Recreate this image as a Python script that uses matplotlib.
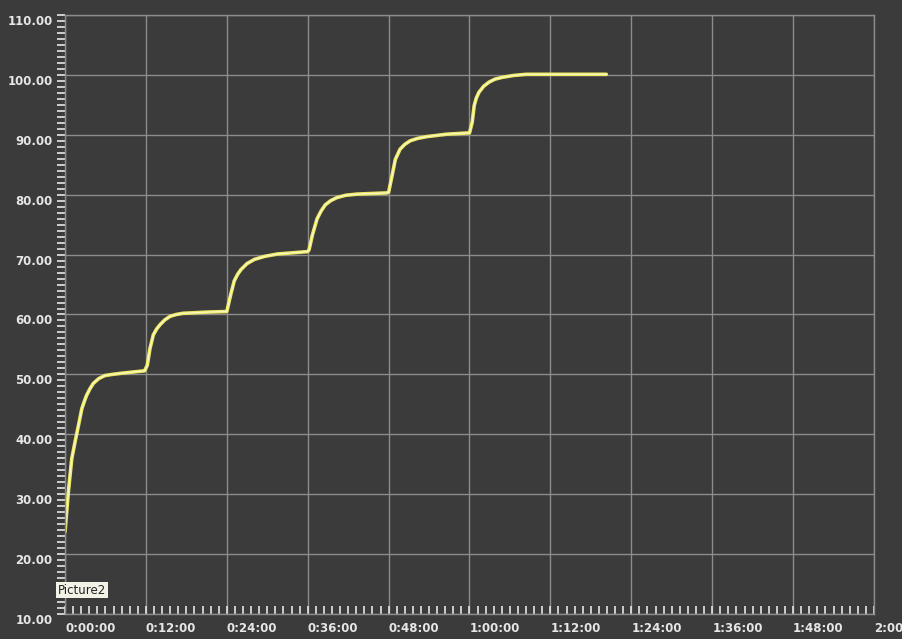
import matplotlib.pyplot as plt
from matplotlib.ticker import MultipleLocator, FuncFormatter

# elapsed time (minutes) and measured level
time_min = [0.0, 0.5, 1.0, 1.5, 2.0, 2.5, 2.9, 3.2, 3.7, 4.2, 5.0, 5.9, 7.0, 8.4, 11.8,
            12.2, 12.6, 13.1, 13.6, 14.1, 14.8, 15.6, 16.5, 17.5, 21.0, 24.0,
            24.1, 24.6, 25.1, 25.6, 26.1, 27.0, 28.1, 29.6, 31.5, 36.0,
            36.2, 36.7, 37.4, 38.0, 38.6, 39.4, 40.3, 41.6, 43.3, 47.7,
            48.0, 48.5, 49.0, 49.7, 50.4, 51.2, 52.3, 53.7, 56.6, 59.6,
            60.0, 60.4, 60.7, 61.0, 61.4, 62.1, 62.9, 63.8, 64.9, 66.5, 68.4, 80.3]
level = [23.7, 30.4, 35.9, 38.8, 41.5, 44.3, 45.6, 46.5, 47.6, 48.5, 49.3, 49.8, 50.0, 50.2, 50.6,
         51.5, 54.3, 56.6, 57.6, 58.3, 59.1, 59.7, 60.0, 60.2, 60.4, 60.5,
         61.0, 63.4, 65.6, 66.7, 67.5, 68.5, 69.2, 69.7, 70.1, 70.5,
         70.8, 73.3, 76.0, 77.3, 78.3, 79.0, 79.5, 79.9, 80.1, 80.3,
         80.4, 83.1, 85.9, 87.6, 88.4, 89.0, 89.4, 89.7, 90.1, 90.3,
         90.3, 92.1, 94.9, 96.1, 97.1, 98.1, 98.8, 99.3, 99.6, 99.9, 100.1, 100.1]

bg = '#3b3b3b'
fg = '#e6e6e6'

fig = plt.figure(figsize=(9.02, 6.39), dpi=100, facecolor=bg)
ax = fig.add_axes([65 / 902, 1 - 614 / 639, (874 - 65) / 902, (614 - 15) / 639])
ax.set_facecolor(bg)

ax.plot(time_min, level, color='#ece860', lw=2.6, solid_joinstyle='round', solid_capstyle='round')
ax.plot(time_min, level, color='#fbf8c8', lw=0.9, solid_joinstyle='round')

ax.set_xlim(0, 120)
ax.set_ylim(10, 110)

ax.xaxis.set_major_locator(MultipleLocator(12))
ax.xaxis.set_minor_locator(MultipleLocator(1.2))
ax.yaxis.set_major_locator(MultipleLocator(10))
ax.yaxis.set_minor_locator(MultipleLocator(1))

ax.grid(True, which='major', color='#8c8c8c', lw=1)
for s in ax.spines.values():
    s.set_color('#8c8c8c')
    s.set_linewidth(1)

def fmt_time(v, pos):
    m = int(round(v))
    if m >= 120:
        return '2:00'
    return '%d:%02d:00' % (m // 60, m % 60)

ax.xaxis.set_major_formatter(FuncFormatter(fmt_time))
ax.yaxis.set_major_formatter(FuncFormatter(lambda v, p: '%.2f' % v))

ax.tick_params(axis='x', which='both', direction='in', colors=fg, length=6, width=1.2,
               labelsize=8.5, pad=6)
ax.tick_params(axis='y', which='both', direction='out', colors=fg, length=6, width=1.2,
               labelsize=8.5, pad=3)
for lab in ax.get_xticklabels():
    lab.set_horizontalalignment('left')
    lab.set_fontweight('bold')
for lab in ax.get_yticklabels():
    lab.set_verticalalignment('top')
    lab.set_fontweight('bold')

fig.text(58 / 902, 1 - 590 / 639, 'Picture2', fontsize=8.5, color='#222222', va='center', ha='left',
         bbox=dict(boxstyle='square,pad=0.15', fc='#f2f2e6', ec='none'))

fig.savefig('out.png', dpi=100, facecolor=bg)
